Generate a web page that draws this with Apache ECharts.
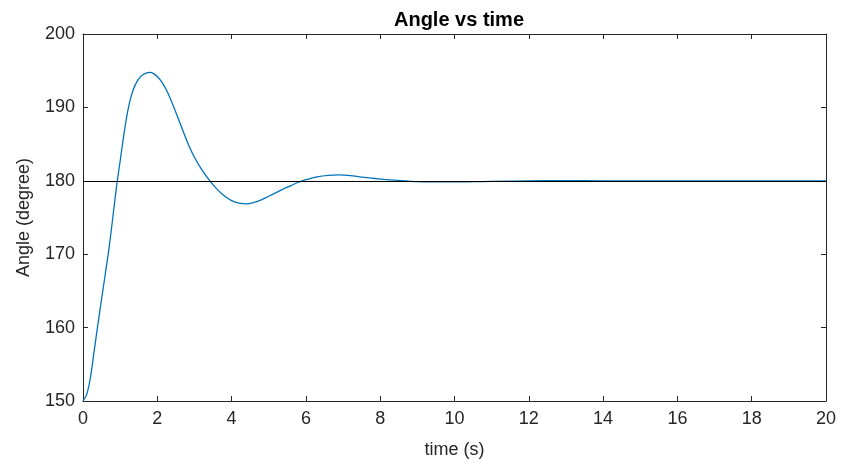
<!DOCTYPE html>
<html>
<head>
<meta charset="utf-8">
<script src="https://cdn.jsdelivr.net/npm/echarts@6/dist/echarts.min.js"></script>
<style>
html,body{margin:0;padding:0;background:#fff;}
#chart{width:841px;height:464px;}
</style>
</head>
<body>
<div id="chart"></div>
<script>
var chartTitle = 'Angle vs time';
var xLabel = 'time (s)';
var yLabel = 'Angle (degree)';
var xTicks = [0, 20, 2];
var yTicks = [150, 200, 10];
var referenceValue = 180;

var timeS = [0, 0.1, 0.2, 0.3, 0.4, 0.5, 0.6, 0.7, 0.8, 0.9, 1.0, 1.1, 1.2, 1.3, 1.4, 1.5, 1.6, 1.7, 1.8, 1.9, 2.0,
  2.1, 2.2, 2.3, 2.4, 2.6, 2.8, 3.0, 3.2, 3.4, 3.6, 3.8, 4.0, 4.2, 4.4, 4.6, 4.8, 5.0, 5.2, 5.4, 5.6, 5.8, 6.0,
  6.3, 6.6, 6.9, 7.2, 7.5, 7.8, 8.1, 8.4, 8.7, 9.0, 9.5, 10, 10.5, 11, 12, 13, 14, 15, 16, 17, 18, 19, 20];
var angleDeg = [150, 150.9, 153.2, 156.8, 160.4, 163.9, 167.3, 170.8, 174.9, 179.1, 182.7, 186.3, 189.4, 191.6, 193.0, 193.9, 194.4, 194.68, 194.76, 194.6, 194.2,
  193.6, 192.8, 191.8, 190.6, 188.0, 185.4, 183.2, 181.5, 180.1, 178.9, 177.95, 177.3, 176.95, 176.85, 177.05, 177.4, 177.9, 178.4, 178.9, 179.35, 179.8, 180.15,
  180.55, 180.75, 180.8, 180.7, 180.5, 180.35, 180.2, 180.08, 179.98, 179.9, 179.85, 179.85, 179.88, 179.92, 180.0, 180.02, 180, 180, 180, 180, 180, 180, 180];

var FONT = "'Liberation Sans', Arial, Helvetica, sans-serif";
var AX = '#262626';

var chart = echarts.init(document.getElementById('chart'), null, {renderer: 'canvas'});
var pts = timeS.map(function (t, i) { return [t, angleDeg[i]]; });

function xAx(pos, labels) {
  return {
    type: 'value', position: pos, min: xTicks[0], max: xTicks[1], interval: xTicks[2],
    axisLine: {show: true, onZero: false, lineStyle: {color: AX, width: 1}},
    axisTick: {show: true, inside: true, length: 5, lineStyle: {color: AX}},
    axisLabel: {show: labels, color: AX, fontSize: 18, fontFamily: FONT, margin: 9},
    splitLine: {show: false},
    name: labels ? xLabel : '', nameLocation: 'middle', nameGap: 40,
    nameTextStyle: {color: AX, fontSize: 18, fontFamily: FONT}
  };
}
function yAx(pos, labels) {
  return {
    type: 'value', position: pos, min: yTicks[0], max: yTicks[1], interval: yTicks[2],
    axisLine: {show: true, onZero: false, lineStyle: {color: AX, width: 1}},
    axisTick: {show: true, inside: true, length: 5, lineStyle: {color: AX}},
    axisLabel: {show: labels, color: AX, fontSize: 18, fontFamily: FONT, margin: 8},
    splitLine: {show: false},
    name: labels ? yLabel : '', nameLocation: 'middle', nameGap: 50,
    nameTextStyle: {color: AX, fontSize: 18, fontFamily: FONT}
  };
}

chart.setOption({
  animation: false,
  backgroundColor: '#fff',
  title: {
    text: chartTitle, left: 454, top: 5, textAlign: 'center',
    textStyle: {color: '#000', fontSize: 20, fontWeight: 'bold', fontFamily: FONT}
  },
  grid: {left: 83, right: 15, top: 34, bottom: 61, containLabel: false},
  xAxis: [xAx('bottom', true), xAx('top', false)],
  yAxis: [yAx('left', true), yAx('right', false)],
  series: [{
    type: 'line', data: pts, showSymbol: false, smooth: 0.3,
    lineStyle: {color: '#0072BD', width: 1.3}, itemStyle: {color: '#0072BD'},
    markLine: {
      silent: true, symbol: 'none', label: {show: false},
      lineStyle: {color: '#000', width: 1, type: 'solid'},
      data: [{yAxis: referenceValue}]
    },
    z: 3
  }]
});
</script>
</body>
</html>
